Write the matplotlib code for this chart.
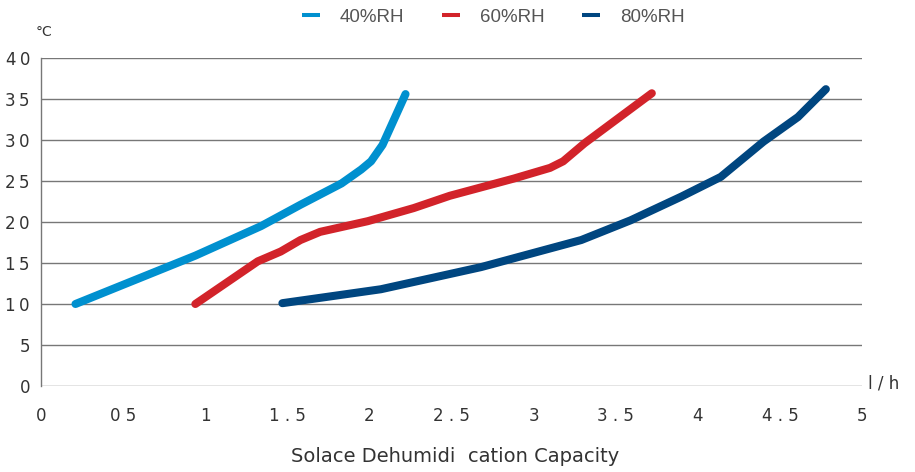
import matplotlib.pyplot as plt

# =========================
# Data
# =========================
rh40_x = [0.21, 0.94, 1.34, 1.58, 1.83, 1.95, 2.01, 2.08, 2.22]
rh40_y = [10.0, 15.9, 19.5, 22.1, 24.7, 26.4, 27.4, 29.4, 35.6]

rh60_x = [0.94, 1.32, 1.46, 1.58, 1.70, 1.99, 2.27, 2.49, 2.88, 3.10, 3.18, 3.31, 3.72]
rh60_y = [10.0, 15.2, 16.4, 17.8, 18.8, 20.1, 21.7, 23.2, 25.3, 26.6, 27.4, 29.6, 35.7]

rh80_x = [1.47, 2.07, 2.68, 3.29, 3.59, 3.90, 4.14, 4.40, 4.61, 4.78]
rh80_y = [10.1, 11.8, 14.5, 17.8, 20.2, 23.1, 25.5, 29.8, 32.8, 36.2]

x_ticks = [0, 0.5, 1, 1.5, 2, 2.5, 3, 3.5, 4, 4.5, 5]
x_labels = ["0", "0 5", "1", "1 . 5", "2", "2 . 5", "3", "3 . 5", "4", "4 . 5", "5"]
y_ticks = [0, 5, 10, 15, 20, 25, 30, 35, 40]
y_labels = ["0", "5", "1\u20090", "1\u20095", "2\u20090", "2\u20095", "3\u20090", "3\u20095", "4\u20090"]

series = [
    ("40%RH", rh40_x, rh40_y, "#0090cf"),
    ("60%RH", rh60_x, rh60_y, "#d2232a"),
    ("80%RH", rh80_x, rh80_y, "#004680"),
]

# =========================
# Figure
# =========================
fig = plt.figure(figsize=(9.15, 4.72), dpi=100)
ax = fig.add_axes([41 / 915, 86 / 472, 821 / 915, 328 / 472])

for name, xs, ys, color in series:
    ax.plot(xs, ys, color=color, lw=5.8, solid_capstyle="round",
            solid_joinstyle="round", label=name, zorder=3)

ax.set_xlim(0, 5)
ax.set_ylim(0, 40)
ax.set_xticks(x_ticks)
ax.set_xticklabels(x_labels)
ax.set_yticks(y_ticks)
ax.set_yticklabels(y_labels)
ax.tick_params(length=0, labelsize=12, labelcolor="#333333")
ax.tick_params(axis="x", pad=15)
ax.tick_params(axis="y", pad=8)

ax.grid(axis="y", color="#777777", lw=1.0, zorder=1)
ax.grid(axis="x", visible=False)
for side in ["top", "right", "bottom"]:
    ax.spines[side].set_visible(False)
ax.spines["left"].set_color("#777777")
ax.spines["left"].set_linewidth(1.0)

# unit labels
fig.text(36 / 915, 1 - 32 / 472, "°C", fontsize=10, color="#333333",
         ha="left", va="center")
fig.text(868 / 915, 1 - 383 / 472, "l / h", fontsize=12, color="#333333",
         ha="left", va="center")

# legend at the top
leg = ax.legend(loc="center", bbox_to_anchor=(0.551, 1.125), ncol=3,
                frameon=False, handlelength=0.96, handletextpad=1.07,
                columnspacing=2.0,
                prop={"family": ["Liberation Sans", "DejaVu Sans"], "size": 13.5})
for line in leg.get_lines():
    line.set_linewidth(2.9)
    line.set_solid_capstyle("butt")
for t in leg.get_texts():
    t.set_color("#555555")

# title below
fig.text(455 / 915, 1 - 457 / 472, "Solace Dehumidi  cation Capacity",
         fontsize=14, color="#333333", ha="center", va="center",
         family=["Liberation Sans Narrow", "DejaVu Sans"])

plt.savefig("out.png", dpi=100)
